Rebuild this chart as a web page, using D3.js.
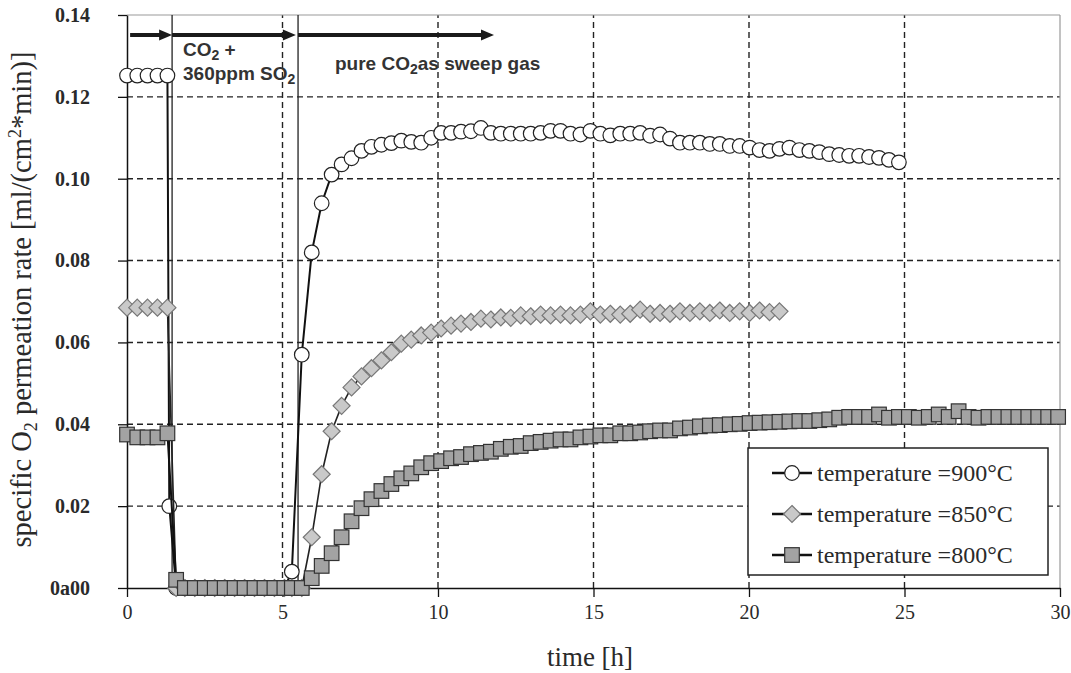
<!DOCTYPE html>
<html>
<head>
<meta charset="utf-8">
<script src="https://cdn.jsdelivr.net/npm/d3@7"></script>
<style>
  body { margin: 0; background: #fff; }
  svg { display: block; }
</style>
</head>
<body>
<svg id="chart" width="1071" height="673"></svg>
<script>
// Axis ticks and labels
const xTicks = [0, 5, 10, 15, 20, 25, 30];
const yTicks = [0, 0.02, 0.04, 0.06, 0.08, 0.10, 0.12, 0.14];
const yTickLabels = ["0a00", "0.02", "0.04", "0.06", "0.08", "0.10", "0.12", "0.14"];
const seriesNames = ["temperature =900°C", "temperature =850°C", "temperature =800°C"];

// Sampling times [h]
const sampleTimes = [
  0, 0.33, 0.66, 0.98, 1.30, 1.36, 1.58, 1.86, 2.18, 2.50, 2.82, 3.14, 3.46, 3.78, 4.10, 4.42, 4.74, 5.06,
  5.30, 5.62, 5.94, 6.26, 6.58, 6.90, 7.22, 7.54, 7.86, 8.18, 8.50, 8.82, 9.14, 9.46, 9.78,
  10.10, 10.42, 10.74, 11.06, 11.38, 11.70, 12.02, 12.34, 12.66, 12.98, 13.30, 13.62, 13.94,
  14.26, 14.58, 14.90, 15.22, 15.54, 15.86, 16.18, 16.50, 16.82, 17.14, 17.46, 17.78, 18.10,
  18.42, 18.74, 19.06, 19.38, 19.70, 20.02, 20.34, 20.66, 20.98, 21.30, 21.62, 21.94, 22.26,
  22.58, 22.90, 23.22, 23.54, 23.86, 24.18, 24.50, 24.82, 25.14, 25.46, 25.78, 26.10, 26.42,
  26.74, 27.06, 27.38, 27.70, 28.02, 28.34, 28.66, 28.98, 29.30, 29.62, 29.94
];

// Specific O2 permeation rate [ml/(cm2*min)], aligned with sampleTimes (null = no sample)
const rate900 = [
  0.1252, 0.1252, 0.1252, 0.1252, 0.1252, 0.020, 0, 0, 0, 0, 0, 0, 0, 0, 0, 0, 0, 0,
  0.004, 0.057, 0.082, 0.094, 0.101, 0.1035, 0.105, 0.1068, 0.1078, 0.1083, 0.1087, 0.1093, 0.109, 0.1088, 0.110,
  0.1112, 0.1112, 0.1115, 0.1116, 0.1124, 0.1112, 0.111, 0.111, 0.111, 0.111, 0.1112, 0.1117, 0.1117,
  0.111, 0.1108, 0.1117, 0.111, 0.1106, 0.111, 0.111, 0.1112, 0.1105, 0.1108, 0.1098, 0.1088, 0.1088,
  0.1088, 0.1085, 0.1085, 0.108, 0.108, 0.1076, 0.107, 0.1068, 0.1073, 0.1076, 0.107, 0.1068, 0.1065,
  0.106, 0.1058, 0.1056, 0.1056, 0.1053, 0.1051, 0.1046, 0.104
];
const rate850 = [
  0.0685, 0.0685, 0.0685, 0.0685, 0.0685, null, 0, 0, 0, 0, 0, 0, 0, 0, 0, 0, 0, 0,
  0, 0, 0.0124, 0.0278, 0.0383, 0.0445, 0.049, 0.0517, 0.0537, 0.0556, 0.0576, 0.0597, 0.0607, 0.0617, 0.0624,
  0.0634, 0.0641, 0.0646, 0.065, 0.0658, 0.0656, 0.0661, 0.066, 0.0666, 0.0664, 0.0668, 0.0666, 0.0668,
  0.0666, 0.0668, 0.0676, 0.0668, 0.067, 0.0668, 0.067, 0.068, 0.067, 0.0672, 0.067, 0.0676, 0.0672,
  0.0676, 0.0672, 0.0678, 0.0672, 0.0676, 0.0672, 0.0678, 0.0674, 0.0676
];
const rate800 = [
  0.0375, 0.0368, 0.0368, 0.0368, 0.0378, null, 0.002, 0, 0, 0, 0, 0, 0, 0, 0, 0, 0, 0,
  0, 0, 0.0024, 0.0054, 0.0085, 0.0124, 0.0163, 0.0195, 0.0217, 0.0237, 0.0254, 0.0268, 0.028, 0.0295, 0.0305,
  0.031, 0.0317, 0.032, 0.0327, 0.033, 0.0333, 0.034, 0.0345, 0.0347, 0.0354, 0.0357, 0.036, 0.0363,
  0.0363, 0.0368, 0.037, 0.0373, 0.0373, 0.0378, 0.0378, 0.038, 0.0383, 0.0385, 0.0385, 0.039, 0.0392,
  0.0395, 0.0397, 0.0398, 0.040, 0.0401, 0.0403, 0.0404, 0.0405, 0.0406, 0.0407, 0.0408, 0.0408, 0.041,
  0.0412, 0.0416, 0.0418, 0.0418, 0.0418, 0.0424, 0.0416, 0.0418, 0.0418, 0.0416, 0.0418, 0.0424, 0.0418,
  0.0432, 0.0418, 0.0416, 0.0418, 0.0418, 0.0418, 0.0418, 0.0418, 0.0418, 0.0418, 0.0418
];

// Sweep gas switching times [h]
const phaseSwitches = [1.45, 5.5];
const phaseArrows = [[0.1, 1.45], [1.45, 5.43], [5.5, 11.8]];

const svg = d3.select("#chart");
const x = d3.scaleLinear().domain([0, 30]).range([127, 1060]);
const y = d3.scaleLinear().domain([0, 0.14]).range([588, 15]);

const serif = "'Liberation Serif', 'Times New Roman', serif";
const sans = "'Liberation Sans', Arial, sans-serif";

// Dashed grid
const grid = svg.append("g");
grid.selectAll("line.h").data(yTicks.filter(d => d > 0 && d < 0.14)).join("line")
  .attr("x1", x(0)).attr("x2", x(30)).attr("y1", d => y(d)).attr("y2", d => y(d))
  .attr("stroke", "#222").attr("stroke-width", 1.4).attr("stroke-dasharray", "6,4");
grid.selectAll("line.v").data(xTicks.filter(d => d > 0 && d < 30)).join("line")
  .attr("y1", y(0)).attr("y2", y(0.14)).attr("x1", d => x(d)).attr("x2", d => x(d))
  .attr("stroke", "#222").attr("stroke-width", 1.4).attr("stroke-dasharray", "6,4");

// Plot frame (top and right)
svg.append("line").attr("x1", x(0)).attr("x2", x(30)).attr("y1", y(0.14)).attr("y2", y(0.14))
  .attr("stroke", "#999").attr("stroke-width", 1.2);
svg.append("line").attr("x1", x(30)).attr("x2", x(30)).attr("y1", y(0)).attr("y2", y(0.14))
  .attr("stroke", "#999").attr("stroke-width", 1.2);

// Gas switch markers
svg.append("g").selectAll("line").data(phaseSwitches).join("line")
  .attr("x1", d => x(d)).attr("x2", d => x(d)).attr("y1", y(0)).attr("y2", y(0.14))
  .attr("stroke", "#222").attr("stroke-width", 1.3);

// Axes
const yAxis = svg.append("g").attr("transform", `translate(${x(0)},0)`)
  .call(d3.axisLeft(y).tickValues(yTicks).tickFormat((d, i) => yTickLabels[i])
    .tickSizeInner(9).tickSizeOuter(0).tickPadding(28));
yAxis.select(".domain").attr("stroke", "#111").attr("stroke-width", 1.5);
yAxis.selectAll(".tick line").attr("stroke", "#111").attr("stroke-width", 1.3);
yAxis.selectAll(".tick text").attr("font-family", serif).attr("font-size", 20)
  .attr("font-weight", "bold").attr("fill", "#2a2a2a");

const xAxis = svg.append("g").attr("transform", `translate(0,${y(0)})`)
  .call(d3.axisBottom(x).tickValues(xTicks).tickFormat(d3.format("d"))
    .tickSizeInner(9).tickSizeOuter(0).tickPadding(8));
xAxis.select(".domain").attr("stroke", "#111").attr("stroke-width", 1.5);
xAxis.selectAll(".tick line").attr("stroke", "#111").attr("stroke-width", 1.3);
xAxis.selectAll(".tick text").attr("font-family", serif).attr("font-size", 20).attr("fill", "#2a2a2a");

// Axis titles
svg.append("text").attr("x", 590).attr("y", 666).attr("text-anchor", "middle")
  .attr("font-family", serif).attr("font-size", 27).attr("fill", "#2a2a2a").text("time [h]");

const yTitle = svg.append("text")
  .attr("transform", `translate(31,${(y(0) + y(0.14)) / 2 - 2}) rotate(-90)`)
  .attr("text-anchor", "middle").attr("font-family", serif).attr("font-size", 28.5).attr("fill", "#2a2a2a");
yTitle.append("tspan").text("specific O");
yTitle.append("tspan").attr("font-size", 18).attr("dy", 6).text("2");
yTitle.append("tspan").attr("dy", -6).text(" permeation rate [ml/(cm");
yTitle.append("tspan").attr("font-size", 18).attr("dy", -10).text("2");
yTitle.append("tspan").attr("dy", 10).text("*min)]");

// Series
const series = [
  { name: seriesNames[0], values: rate900, shape: "circle", fill: "#fff", stroke: "#222", line: "#111", lw: 2 },
  { name: seriesNames[1], values: rate850, shape: "diamond", fill: "#c9c9c9", stroke: "#777", line: "#222", lw: 1.6 },
  { name: seriesNames[2], values: rate800, shape: "square", fill: "#a3a3a3", stroke: "#333", line: "#111", lw: 2 }
];

function drawMarker(g, s, cx, cy) {
  if (s.shape === "circle") {
    g.append("circle").attr("cx", cx).attr("cy", cy).attr("r", 7.3)
      .attr("fill", s.fill).attr("stroke", s.stroke).attr("stroke-width", 1.2);
  } else if (s.shape === "diamond") {
    const r = 8.5;
    g.append("path").attr("d", `M${cx},${cy - r}L${cx + r},${cy}L${cx},${cy + r}L${cx - r},${cy}Z`)
      .attr("fill", s.fill).attr("stroke", s.stroke).attr("stroke-width", 1.2);
  } else {
    const h = 7.3;
    g.append("rect").attr("x", cx - h).attr("y", cy - h).attr("width", 2 * h).attr("height", 2 * h)
      .attr("fill", s.fill).attr("stroke", s.stroke).attr("stroke-width", 1.2);
  }
}

const line = d3.line().x(d => x(d.t)).y(d => y(d.v));
series.forEach(s => {
  const pts = s.values.map((v, i) => ({ t: sampleTimes[i], v })).filter(d => d.v !== null);
  const g = svg.append("g");
  g.append("path").datum(pts).attr("d", line).attr("fill", "none")
    .attr("stroke", s.line).attr("stroke-width", s.lw).attr("stroke-linejoin", "round");
  pts.forEach(d => drawMarker(g, s, x(d.t), y(d.v)));
});

// Sweep gas arrows
const arrows = svg.append("g");
phaseArrows.forEach(([a, b]) => {
  const ay = 35;
  arrows.append("line").attr("x1", x(a)).attr("x2", x(b) - 10).attr("y1", ay).attr("y2", ay)
    .attr("stroke", "#1a1a1a").attr("stroke-width", 4);
  arrows.append("path").attr("d", `M${x(b)},${ay}L${x(b) - 13},${ay - 5.5}L${x(b) - 13},${ay + 5.5}Z`)
    .attr("fill", "#1a1a1a");
});

const ann = svg.append("g").attr("font-family", sans).attr("font-weight", "bold")
  .attr("font-size", 19).attr("fill", "#333");
const t1 = ann.append("text").attr("x", 183).attr("y", 56);
t1.append("tspan").text("CO");
t1.append("tspan").attr("font-size", 14).attr("dy", 4).text("2");
t1.append("tspan").attr("dy", -4).text(" +");
const t2 = ann.append("text").attr("x", 183).attr("y", 80);
t2.append("tspan").text("360ppm SO");
t2.append("tspan").attr("font-size", 14).attr("dy", 4).text("2");
const t3 = ann.append("text").attr("x", 335).attr("y", 70);
t3.append("tspan").text("pure CO");
t3.append("tspan").attr("font-size", 14).attr("dy", 4).text("2");
t3.append("tspan").attr("dy", -4).text("as sweep gas");

// Legend
const lg = svg.append("g");
lg.append("rect").attr("x", 748).attr("y", 448).attr("width", 300).attr("height", 127)
  .attr("fill", "#fff").attr("stroke", "#222").attr("stroke-width", 1.5);
const rowsY = [473, 514, 555];
series.forEach((s, i) => {
  const ry = rowsY[i];
  lg.append("line").attr("x1", 772).attr("x2", 812).attr("y1", ry).attr("y2", ry)
    .attr("stroke", "#111").attr("stroke-width", 2.5);
  drawMarker(lg, s, 792, ry);
  lg.append("text").attr("x", 817).attr("y", ry + 8).attr("font-family", serif)
    .attr("font-size", 24).attr("fill", "#2a2a2a").text(s.name);
});
</script>
</body>
</html>
